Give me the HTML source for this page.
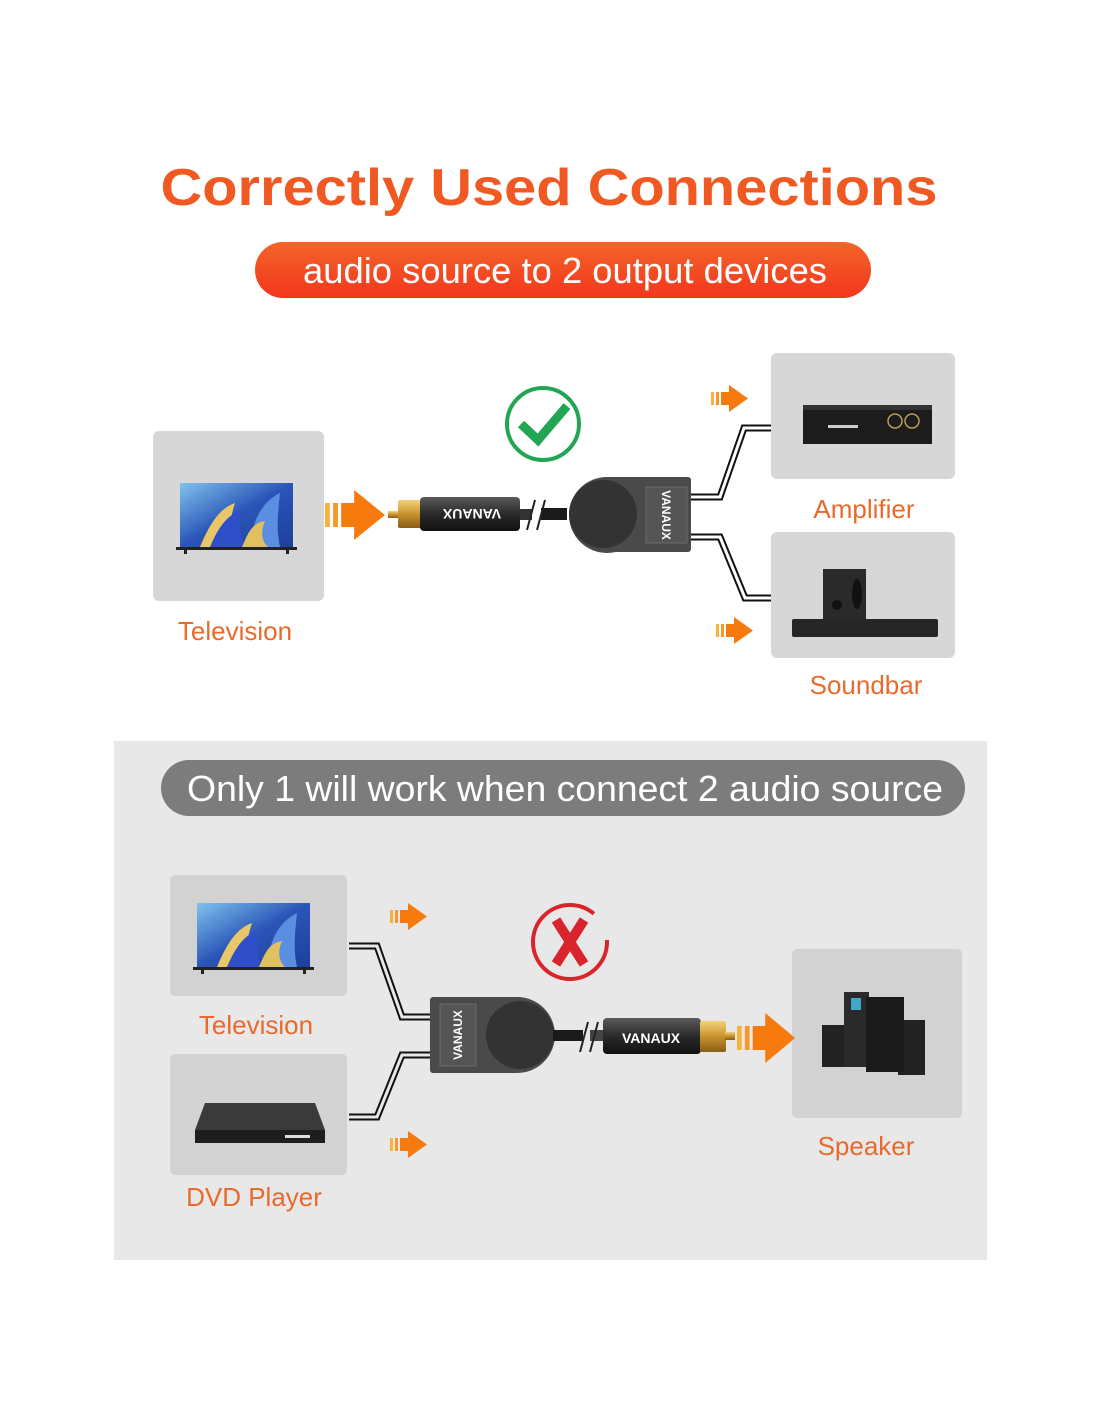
<!DOCTYPE html>
<html><head><meta charset="utf-8"><style>
html,body{margin:0;padding:0;background:#fff;}
svg{display:block;}
text{font-family:"Liberation Sans",sans-serif;}
</style></head><body>
<svg width="1100" height="1422" viewBox="0 0 1100 1422" xmlns="http://www.w3.org/2000/svg">
<defs>
<linearGradient id="pill" x1="0" y1="0" x2="0" y2="1"><stop offset="0" stop-color="#f2652a"/><stop offset="1" stop-color="#f4361d"/></linearGradient>
<linearGradient id="scr" x1="0" y1="0" x2="1" y2="1"><stop offset="0" stop-color="#7fc3ec"/><stop offset="0.5" stop-color="#2a55b8"/><stop offset="1" stop-color="#1d3f9c"/></linearGradient>
<linearGradient id="gold" x1="0" y1="0" x2="0" y2="1"><stop offset="0" stop-color="#f3d27a"/><stop offset="0.5" stop-color="#c8932e"/><stop offset="1" stop-color="#8a5d14"/></linearGradient>
<linearGradient id="plug" x1="0" y1="0" x2="0" y2="1"><stop offset="0" stop-color="#5a5a5a"/><stop offset="0.5" stop-color="#2a2a2a"/><stop offset="1" stop-color="#111"/></linearGradient>
<g id="sa">
<rect x="0" y="7" width="3" height="13" fill="#f8b23c"/>
<rect x="5" y="7" width="3" height="13" fill="#f7982a"/>
<rect x="10" y="7" width="10" height="13" fill="#f77a0f"/>
<polygon points="18,0 37,13.5 18,27" fill="#f77a0f"/>
</g>
<g id="tv">
<rect x="0" y="0" width="113" height="64" fill="url(#scr)"/>
<path d="M20 64 C30 40 40 25 55 20 C50 35 48 50 55 64Z" fill="#e8c66a"/>
<path d="M30 64 C38 45 48 30 62 28 C58 42 60 55 66 64Z" fill="#2e4fc8"/>
<path d="M70 64 C72 40 80 20 100 10 C98 30 96 45 100 64Z" fill="#5a8ee0"/>
<path d="M62 64 C68 50 72 40 85 38 C80 50 82 58 88 64Z" fill="#e0c060"/>
<rect x="-4" y="64" width="121" height="3" fill="#222"/>
<rect x="4" y="67" width="3" height="4" fill="#222"/><rect x="106" y="67" width="3" height="4" fill="#222"/>
</g>
</defs>

<!-- Title -->
<text x="549" y="205" font-size="52" font-weight="bold" fill="#f05a22" text-anchor="middle" textLength="777" lengthAdjust="spacingAndGlyphs">Correctly Used Connections</text>
<rect x="255" y="242" width="616" height="56" rx="28" fill="url(#pill)"/>
<text x="565" y="283" font-size="36" fill="#fff" text-anchor="middle" textLength="524" lengthAdjust="spacingAndGlyphs">audio source to 2 output devices</text>

<!-- Top devices -->
<rect x="153" y="431" width="171" height="170" rx="6" fill="#d7d7d7"/>
<use href="#tv" transform="translate(180,483)"/>
<text x="235" y="640" font-size="26" fill="#e86a2c" text-anchor="middle">Television</text>

<rect x="771" y="353" width="184" height="126" rx="6" fill="#d7d7d7"/>
<rect x="803" y="405" width="129" height="39" fill="#1c1c1c"/>
<rect x="803" y="405" width="129" height="5" fill="#333"/>
<circle cx="895" cy="421" r="7" fill="none" stroke="#b99a55" stroke-width="1.5"/>
<circle cx="912" cy="421" r="7" fill="none" stroke="#b99a55" stroke-width="1.5"/>
<rect x="828" y="425" width="30" height="3" fill="#ccc"/>
<text x="864" y="518" font-size="26" fill="#e86a2c" text-anchor="middle">Amplifier</text>

<rect x="771" y="532" width="184" height="126" rx="6" fill="#d7d7d7"/>
<rect x="823" y="569" width="43" height="50" fill="#2a2a2a"/>
<ellipse cx="857" cy="594" rx="5" ry="15" fill="#111"/>
<circle cx="837" cy="605" r="5" fill="#111"/>
<rect x="792" y="619" width="146" height="18" rx="2" fill="#262626"/>
<text x="866" y="694" font-size="26" fill="#e86a2c" text-anchor="middle">Soundbar</text>

<!-- Top arrows -->
<use href="#sa" transform="translate(325,490) scale(1.62,1.85)"/>
<use href="#sa" transform="translate(711,385)"/>
<use href="#sa" transform="translate(716,617)"/>

<!-- check -->
<circle cx="543" cy="424" r="36" fill="none" stroke="#23a653" stroke-width="4"/>
<path d="M521 424 L538 440 L567 406" fill="none" stroke="#23a653" stroke-width="9" stroke-linejoin="miter"/>

<!-- top plug -->
<rect x="388" y="511" width="12" height="7" fill="url(#gold)"/>
<rect x="398" y="500" width="24" height="28" rx="2" fill="url(#gold)"/>
<rect x="420" y="497" width="100" height="34" rx="4" fill="url(#plug)"/>
<text x="472" y="514" font-size="14" font-weight="bold" fill="#fff" text-anchor="middle" transform="rotate(180 472 514)" dy="5">VANAUX</text>
<rect x="520" y="509" width="12" height="11" fill="#333"/>
<rect x="541" y="508" width="26" height="12" fill="#1a1a1a"/>
<path d="M527 530 L535 500 M537 530 L545 500" stroke="#222" stroke-width="2"/>
<!-- top splitter -->
<circle cx="607" cy="515" r="38" fill="#4a4a4a"/>
<rect x="607" y="477" width="84" height="75" rx="3" fill="#4a4a4a"/>
<circle cx="603" cy="514" r="34" fill="#333"/>
<rect x="646" y="487" width="41" height="56" fill="#555" stroke="#6a6a6a"/>
<text x="666" y="515" font-size="12" font-weight="bold" fill="#fff" text-anchor="middle" transform="rotate(90 666 515)" dy="4">VANAUX</text>
<g fill="none" stroke-linejoin="miter">
<path d="M691 497 L720 497 L744 428 L771 428" stroke="#111" stroke-width="7"/>
<path d="M691 497 L720 497 L744 428 L771 428" stroke="#fff" stroke-width="3"/>
<path d="M691 537 L720 537 L745 598 L771 598" stroke="#111" stroke-width="7"/>
<path d="M691 537 L720 537 L745 598 L771 598" stroke="#fff" stroke-width="3"/>
</g>

<!-- Bottom panel -->
<rect x="114" y="741" width="873" height="519" fill="#e8e8e8"/>
<rect x="161" y="760" width="804" height="56" rx="28" fill="#7c7c7c"/>
<text x="565" y="801" font-size="36" fill="#fff" text-anchor="middle" textLength="756" lengthAdjust="spacingAndGlyphs">Only 1 will work when connect 2 audio source</text>

<rect x="170" y="875" width="177" height="121" rx="5" fill="#d2d2d2"/>
<use href="#tv" transform="translate(197,903)"/>
<text x="256" y="1034" font-size="26" fill="#e86a2c" text-anchor="middle">Television</text>

<rect x="170" y="1054" width="177" height="121" rx="5" fill="#d2d2d2"/>
<polygon points="205,1103 315,1103 325,1130 195,1130" fill="#3a3a3a"/>
<rect x="195" y="1130" width="130" height="13" fill="#1e1e1e"/>
<rect x="285" y="1135" width="25" height="3" fill="#ddd"/>
<text x="254" y="1206" font-size="26" fill="#e86a2c" text-anchor="middle">DVD Player</text>

<rect x="792" y="949" width="170" height="169" rx="5" fill="#d2d2d2"/>
<rect x="822" y="1025" width="26" height="42" fill="#222"/>
<rect x="898" y="1020" width="27" height="55" fill="#222"/>
<rect x="844" y="992" width="25" height="75" fill="#2a2a2a"/>
<rect x="866" y="997" width="38" height="75" fill="#1a1a1a"/>
<rect x="851" y="998" width="10" height="12" fill="#3fa7c9"/>
<text x="866" y="1155" font-size="26" fill="#e86a2c" text-anchor="middle">Speaker</text>

<use href="#sa" transform="translate(390,903)"/>
<use href="#sa" transform="translate(390,1131)"/>

<!-- X -->
<circle cx="570" cy="942" r="37" fill="none" stroke="#d8242a" stroke-width="4" stroke-dasharray="200 30"/>
<path d="M556 920 L584 964 M584 920 L556 964" stroke="#d8242a" stroke-width="10"/>

<!-- bottom splitter -->
<g fill="none">
<path d="M430 1017 L402 1017 L377 946 L349 946" stroke="#111" stroke-width="7"/>
<path d="M430 1017 L402 1017 L377 946 L349 946" stroke="#e8e8e8" stroke-width="3"/>
<path d="M430 1055 L402 1055 L377 1117 L349 1117" stroke="#111" stroke-width="7"/>
<path d="M430 1055 L402 1055 L377 1117 L349 1117" stroke="#e8e8e8" stroke-width="3"/>
</g>
<circle cx="517" cy="1035" r="38" fill="#4a4a4a"/>
<rect x="430" y="997" width="88" height="76" rx="3" fill="#4a4a4a"/>
<circle cx="520" cy="1035" r="34" fill="#333"/>
<rect x="440" y="1004" width="36" height="62" fill="#555" stroke="#6a6a6a"/>
<text x="458" y="1035" font-size="12" font-weight="bold" fill="#fff" text-anchor="middle" transform="rotate(-90 458 1035)" dy="4">VANAUX</text>
<rect x="553" y="1030" width="30" height="11" fill="#1a1a1a"/>
<rect x="590" y="1030" width="16" height="11" fill="#444"/>
<path d="M580 1052 L588 1022 M590 1052 L598 1022" stroke="#222" stroke-width="2"/>
<rect x="603" y="1018" width="98" height="36" rx="4" fill="url(#plug)"/>
<text x="651" y="1043" font-size="14" font-weight="bold" fill="#fff" text-anchor="middle">VANAUX</text>
<rect x="700" y="1021" width="26" height="31" rx="2" fill="url(#gold)"/>
<rect x="725" y="1032" width="10" height="8" fill="url(#gold)"/>
<use href="#sa" transform="translate(737,1013) scale(1.57,1.85)"/>
</svg>
</body></html>
